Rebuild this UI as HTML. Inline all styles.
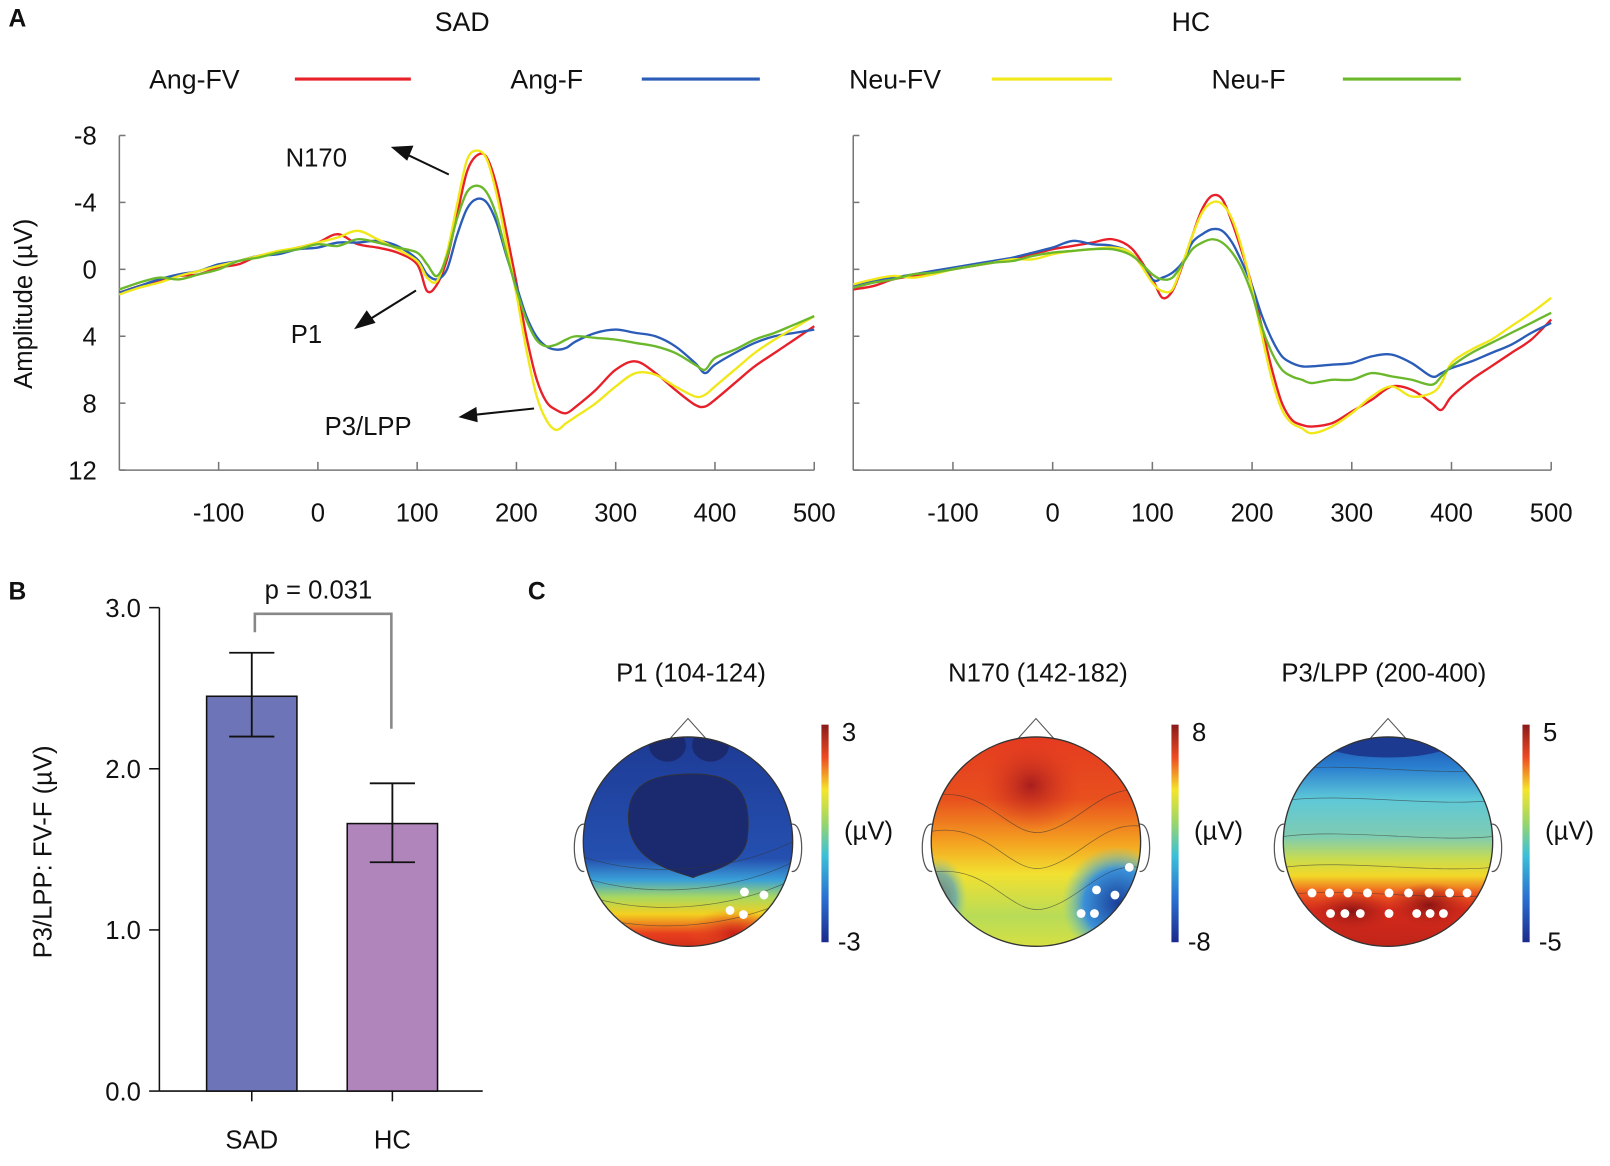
<!DOCTYPE html>
<html><head><meta charset="utf-8"><style>
html,body{margin:0;padding:0;background:#fff}
svg{display:block;font-family:"Liberation Sans",Arial,sans-serif}
</style></head><body>
<svg id="fig" width="1610" height="1166" viewBox="0 0 1568 1136" xmlns="http://www.w3.org/2000/svg">
<defs>
<clipPath id="h1"><circle cx="670" cy="820" r="102"/></clipPath>
<clipPath id="h2"><circle cx="1009" cy="820" r="102"/></clipPath>
<clipPath id="h3"><circle cx="1352" cy="820" r="102"/></clipPath>
<linearGradient id="cbar" x1="0" y1="1" x2="0" y2="0">
<stop offset="0" stop-color="#1b2a8c"/><stop offset="0.2" stop-color="#2a6fd0"/><stop offset="0.4" stop-color="#3cc0d8"/><stop offset="0.55" stop-color="#9ad66a"/><stop offset="0.7" stop-color="#f5e52a"/><stop offset="0.85" stop-color="#ee4a22"/><stop offset="1" stop-color="#8a1a1a"/>
</linearGradient>
<linearGradient id="g1" x1="0" y1="0" x2="0" y2="1">
<stop offset="0" stop-color="#1d3a94"/><stop offset="0.58" stop-color="#2550b0"/><stop offset="0.68" stop-color="#3aa0d8"/><stop offset="0.76" stop-color="#a8d860"/><stop offset="0.84" stop-color="#f3d020"/><stop offset="0.93" stop-color="#e8401e"/><stop offset="1" stop-color="#d02a1a"/>
</linearGradient>
<linearGradient id="g2" x1="0" y1="0" x2="0" y2="1">
<stop offset="0" stop-color="#e43a20"/><stop offset="0.3" stop-color="#e8501e"/><stop offset="0.5" stop-color="#f4a020"/><stop offset="0.65" stop-color="#f2e030"/><stop offset="0.85" stop-color="#b8dc58"/><stop offset="1" stop-color="#d8e040"/>
</linearGradient>
<linearGradient id="g3" x1="0" y1="0" x2="0" y2="1">
<stop offset="0" stop-color="#1d4aa8"/><stop offset="0.15" stop-color="#2a7fd0"/><stop offset="0.3" stop-color="#5ec8d8"/><stop offset="0.48" stop-color="#80ccb0"/><stop offset="0.58" stop-color="#c8dc50"/><stop offset="0.66" stop-color="#f3d828"/><stop offset="0.74" stop-color="#ee5a20"/><stop offset="0.82" stop-color="#d42a1c"/><stop offset="1" stop-color="#c02418"/>
</linearGradient>
<radialGradient id="r2"><stop offset="0" stop-color="#a81e1e"/><stop offset="1" stop-color="#e43a20" stop-opacity="0"/></radialGradient>
<radialGradient id="b2"><stop offset="0" stop-color="#1a3f9a"/><stop offset="0.6" stop-color="#3a90d8"/><stop offset="1" stop-color="#70c8c0" stop-opacity="0"/></radialGradient>
<radialGradient id="r1"><stop offset="0" stop-color="#c81e18"/><stop offset="1" stop-color="#ee5a20" stop-opacity="0"/></radialGradient>
<radialGradient id="r3"><stop offset="0" stop-color="#8a1414"/><stop offset="1" stop-color="#c02418" stop-opacity="0"/></radialGradient>
</defs>

<g font-size="26" fill="#111">
<text x="8" y="26" font-weight="bold" font-size="24">A</text>
<text x="8" y="584" font-weight="bold" font-size="24">B</text>
<text x="514" y="584" font-weight="bold" font-size="24">C</text>
<text x="450" y="30" text-anchor="middle">SAD</text>
<text x="1160" y="30" text-anchor="middle">HC</text>
</g>

<g id="legend" font-size="26" fill="#111">
<g><text x="145" y="86">Ang-FV</text><line x1="287" y1="77" x2="400" y2="77" stroke="#e8202a" stroke-width="3"/></g>
<g><text x="497" y="86">Ang-F</text><line x1="625" y1="77" x2="740" y2="77" stroke="#2a5cb8" stroke-width="3"/></g>
<g><text x="827" y="86">Neu-FV</text><line x1="966" y1="77" x2="1083" y2="77" stroke="#f0e81a" stroke-width="3"/></g>
<g><text x="1180" y="86">Neu-F</text><line x1="1308" y1="77" x2="1423" y2="77" stroke="#6cb82c" stroke-width="3"/></g>
</g>

<g id="erp"></g>

<g font-size="25" fill="#111">
<text x="278" y="162">N170</text>
<text x="283" y="334">P1</text>
<text x="316" y="424">P3/LPP</text>
<g stroke="#111" stroke-width="2" fill="#111">
<line x1="437" y1="170" x2="395" y2="150"/><polygon points="383,144 401,143 396,155"/>
<line x1="405" y1="283" x2="360" y2="311"/><polygon points="347,319 357,304 364,314"/>
<line x1="520" y1="398" x2="463" y2="404"/><polygon points="449,406 463,398 464,410"/>
</g>
</g>

<g id="barchart"></g>

<g id="topos"></g>
</svg>
<script>
// ---------- ERP data ----------
const times = [-200,-180,-160,-140,-120,-100,-80,-60,-40,-20,0,20,40,60,80,100,110,120,130,140,150,160,170,180,190,200,210,220,230,240,250,260,280,300,320,340,360,380,390,400,420,440,460,480,500];
const sadAngFV = [1.4,1.0,0.7,0.4,0.3,-0.1,-0.3,-0.8,-1.0,-1.3,-1.6,-2.1,-1.5,-1.3,-1.0,-0.3,1.3,0.9,-0.6,-3.2,-5.8,-6.8,-6.7,-5.0,-2.2,0.8,4.0,6.5,7.9,8.4,8.6,8.2,7.2,6.0,5.5,6.2,7.2,8.1,8.2,7.8,6.8,5.8,5.0,4.2,3.4];
const sadAngF  = [1.4,1.0,0.6,0.3,0.1,-0.3,-0.5,-0.8,-0.9,-1.2,-1.3,-1.6,-1.6,-1.7,-1.4,-0.6,0.3,0.6,0.0,-2.0,-3.6,-4.2,-4.0,-2.8,-0.8,1.0,2.8,4.0,4.6,4.8,4.7,4.3,3.8,3.6,3.8,4.0,4.6,5.6,6.2,5.7,5.0,4.4,4.0,3.8,3.6];
const sadNeuFV = [1.5,1.1,0.8,0.4,0.1,-0.2,-0.5,-0.8,-1.1,-1.3,-1.6,-1.9,-2.3,-1.8,-1.2,-0.5,0.5,0.7,-1.0,-3.8,-6.5,-7.1,-6.6,-4.5,-1.5,1.5,4.8,7.5,9.0,9.6,9.2,8.8,8.0,7.0,6.2,6.3,7.0,7.6,7.5,7.0,6.0,5.0,4.2,3.5,2.8];
const sadNeuF  = [1.2,0.8,0.5,0.6,0.3,0.0,-0.5,-0.7,-1.0,-1.2,-1.5,-1.4,-1.8,-1.6,-1.3,-1.0,-0.3,0.4,-0.8,-3.0,-4.6,-5.0,-4.6,-3.2,-0.9,1.2,3.0,4.2,4.6,4.5,4.2,4.0,4.1,4.2,4.4,4.6,5.0,5.7,6.0,5.3,4.8,4.2,3.8,3.3,2.8];
const hcAngFV  = [1.2,1.0,0.6,0.4,0.2,0.0,-0.2,-0.4,-0.6,-0.9,-1.2,-1.4,-1.6,-1.8,-1.2,0.6,1.7,1.3,-0.2,-2.0,-3.6,-4.4,-4.2,-2.8,-1.0,1.0,3.5,6.0,8.0,9.0,9.3,9.4,9.2,8.5,7.8,7.0,7.2,8.0,8.4,7.6,6.6,5.8,5.0,4.2,3.0];
const hcAngF   = [1.0,0.7,0.5,0.3,0.1,-0.1,-0.3,-0.5,-0.7,-1.0,-1.3,-1.7,-1.5,-1.4,-0.9,0.6,0.5,0.2,-0.4,-1.6,-2.1,-2.4,-2.3,-1.6,-0.4,1.0,2.8,4.2,5.2,5.6,5.8,5.8,5.7,5.6,5.2,5.1,5.6,6.4,6.2,5.9,5.5,5.0,4.5,3.8,3.2];
const hcNeuFV  = [0.9,0.6,0.4,0.5,0.3,0.0,-0.2,-0.4,-0.6,-0.6,-0.9,-1.1,-1.2,-1.3,-0.9,0.8,1.3,1.2,-0.3,-2.0,-3.4,-4.0,-3.9,-3.0,-1.2,1.2,4.0,6.6,8.4,9.2,9.5,9.8,9.4,8.6,7.6,7.0,7.6,7.4,6.8,5.6,4.8,4.2,3.4,2.6,1.7];
const hcNeuF   = [1.1,0.8,0.6,0.3,0.2,0.0,-0.2,-0.4,-0.5,-0.8,-1.0,-1.1,-1.2,-1.2,-0.8,0.3,0.6,0.5,-0.3,-1.2,-1.6,-1.8,-1.6,-1.0,0.0,1.5,3.5,5.0,6.0,6.4,6.6,6.8,6.6,6.6,6.2,6.4,6.6,6.9,6.4,5.8,5.0,4.4,3.8,3.2,2.6];
const xTicks = [-100,0,100,200,300,400,500];
const yTicks = [-8,-4,0,4,8,12];
const seriesColors = ['#e8202a','#2a5cb8','#f0e81a','#6cb82c'];
const seriesNames = ['ang-fv','ang-f','neu-fv','neu-f'];

// ---------- Bar data ----------
const groups = ['SAD','HC'];
const means = [2.45,1.66];
const semLow = [2.20,1.42];
const semHigh = [2.72,1.91];
const barTicks = [0.0,1.0,2.0,3.0];
const barTickLabels = ['0.0','1.0','2.0','3.0'];

// ---------- Topomap data ----------
const topoTitles = ['P1 (104-124)','N170 (142-182)','P3/LPP (200-400)'];
const topoMax = ['3','8','5'];
const topoMin = ['-3','-8','-5'];

const NS='http://www.w3.org/2000/svg';
function mk(tag,attrs,parent){const e=document.createElementNS(NS,tag);for(const k in attrs)e.setAttribute(k,attrs[k]);parent.appendChild(e);return e;}

function smooth(pts){
  let d='M'+pts[0][0].toFixed(1)+','+pts[0][1].toFixed(1);
  for(let i=0;i<pts.length-1;i++){
    const p0=pts[Math.max(0,i-1)],p1=pts[i],p2=pts[i+1],p3=pts[Math.min(pts.length-1,i+2)];
    const c1=[p1[0]+(p2[0]-p0[0])/6,p1[1]+(p2[1]-p0[1])/6];
    const c2=[p2[0]-(p3[0]-p1[0])/6,p2[1]-(p3[1]-p1[1])/6];
    d+=' C'+c1[0].toFixed(1)+','+c1[1].toFixed(1)+' '+c2[0].toFixed(1)+','+c2[1].toFixed(1)+' '+p2[0].toFixed(1)+','+p2[1].toFixed(1);
  }
  return d;
}

const erp=document.getElementById('erp');
function erpPanel(x0,x1,showY,series,name){
  const g=mk('g',{},erp);
  
  
  const tmin=-200,tmax=500,vmin=-8,vmax=12,yTop=132,yBot=458;
  const X=t=>x0+(t-tmin)/(tmax-tmin)*(x1-x0);
  const Y=v=>yTop+(v-vmin)/(vmax-vmin)*(yBot-yTop);
  mk('line',{x1:x0,y1:yTop,x2:x0,y2:yBot,stroke:'#777','stroke-width':1.5},g);
  mk('line',{x1:x0,y1:yBot,x2:x1,y2:yBot,stroke:'#777','stroke-width':1.5},g);
  yTicks.forEach(v=>{
    mk('line',{x1:x0,y1:Y(v),x2:x0+6,y2:Y(v),stroke:'#777','stroke-width':1.5},g);
    if(showY){const t=mk('text',{x:x0-22,y:Y(v)+9,'text-anchor':'end','font-size':25,fill:'#111'},g);t.textContent=v;
      
      }
  });
  xTicks.forEach(v=>{
    mk('line',{x1:X(v),y1:yBot,x2:X(v),y2:yBot-8,stroke:'#777','stroke-width':1.5},g);
    const t=mk('text',{x:X(v),y:yBot+50,'text-anchor':'middle','font-size':25,fill:'#111'},g);t.textContent=v;
    
    
  });
  series.forEach((s,i)=>{
    const p=mk('path',{d:smooth(times.map((t,j)=>[X(t),Y(s[j])])),fill:'none',stroke:seriesColors[i],'stroke-width':2.3},g);
    
    
  });
}
erpPanel(116,793,true,[sadAngFV,sadAngF,sadNeuFV,sadNeuF],'sad-erp-plot');
erpPanel(831,1511,false,[hcAngFV,hcAngF,hcNeuFV,hcNeuF],'hc-erp-plot');
const yl=mk('text',{x:0,y:0,transform:'translate(31,296) rotate(-90)','text-anchor':'middle','font-size':25,fill:'#111'},erp);
yl.textContent='Amplitude (µV)';



// ---------- Bar chart ----------
const bc=document.getElementById('barchart');
(function(){
  const ax=155,yB=1063,yT=592,vmax=3;
  const Y=v=>yB-(v/vmax)*(yB-yT);
  const centers=[245,382],bw=88,cols=['#6e74b8','#b085bb'];
  mk('line',{x1:ax,y1:yT,x2:ax,y2:yB,stroke:'#111','stroke-width':1.5},bc);
  mk('line',{x1:ax,y1:yB,x2:470,y2:yB,stroke:'#111','stroke-width':1.5},bc);
  barTicks.forEach((v,i)=>{
    mk('line',{x1:ax-10,y1:Y(v),x2:ax,y2:Y(v),stroke:'#111','stroke-width':1.5},bc);
    const t=mk('text',{x:ax-18,y:Y(v)+9,'text-anchor':'end','font-size':25,fill:'#111'},bc);t.textContent=barTickLabels[i];
    
    
  });
  groups.forEach((gname,i)=>{
    const r=mk('rect',{x:centers[i]-bw/2,y:Y(means[i]),width:bw,height:yB-Y(means[i]),fill:cols[i],stroke:'#111','stroke-width':1.5},bc);
    
    
    const e=mk('path',{d:`M${centers[i]},${Y(semLow[i])}V${Y(semHigh[i])}M${centers[i]-22},${Y(semLow[i])}H${centers[i]+22}M${centers[i]-22},${Y(semHigh[i])}H${centers[i]+22}`,stroke:'#111','stroke-width':1.8,fill:'none'},bc);
    
    
    mk('line',{x1:centers[i],y1:yB,x2:centers[i],y2:yB+10,stroke:'#111','stroke-width':1.5},bc);
    const t=mk('text',{x:centers[i],y:yB+56,'text-anchor':'middle','font-size':25,fill:'#111'},bc);t.textContent=gname;
    
    
  });
  const br=mk('path',{d:`M248,${Y(semHigh[0])-20}V598H381V710`,stroke:'#888','stroke-width':2.5,fill:'none'},bc);
  
  
  const p=mk('text',{x:310,y:583,'text-anchor':'middle','font-size':25,fill:'#111'},bc);p.textContent='p = 0.031';
  
  
  const yt=mk('text',{x:0,y:0,transform:'translate(50,830) rotate(-90)','text-anchor':'middle','font-size':25,fill:'#111'},bc);yt.textContent='P3/LPP: FV-F (µV)';
  
  
})();

// ---------- Topomaps ----------
const tp=document.getElementById('topos');
const cxs=[670,1009,1352],cbx=[800,1141,1483],tcx=[673,1011,1348];
const R=102,CY=820;
const fills=['url(#g1)','url(#g2)','url(#g3)'];
const dotOffsets=[
 [[55,49],[74,52],[41,67],[54,71]],
 [[91,25],[59,47],[77,52],[44,70],[57,70]],
 [[-74,50],[-57,50],[-39,50],[-20,50],[1,50],[20,50],[40,50],[60,50],[77,50],[-56,70],[-42,70],[-27,70],[1,70],[28,70],[41,70],[54,70]]
];
topoTitles.forEach((title,i)=>{
  const cx=cxs[i],cy=CY;
  const g=mk('g',{},tp);
  
  
  const t=mk('text',{x:tcx[i],y:664,'text-anchor':'middle','font-size':25,fill:'#111'},g);t.textContent=title;
  
  
  mk('path',{d:`M${cx-17},${cy-R+1}L${cx},${cy-R-18}L${cx+17},${cy-R+1}`,stroke:'#555','stroke-width':1,fill:'none'},g);
  mk('path',{d:`M${cx-R+1},${cy-17}C${cx-R-12},${cy-19} ${cx-R-12},${cy+31} ${cx-R+1},${cy+29}`,stroke:'#555','stroke-width':1.2,fill:'none'},g);
  mk('path',{d:`M${cx+R-1},${cy-17}C${cx+R+12},${cy-19} ${cx+R+12},${cy+31} ${cx+R-1},${cy+29}`,stroke:'#555','stroke-width':1.2,fill:'none'},g);
  const c=mk('g',{'clip-path':`url(#h${i+1})`},g);
  mk('rect',{x:cx-R-2,y:cy-R-2,width:2*R+4,height:2*R+4,fill:fills[i]},c);
  if(i===0){
    mk('path',{d:`M${cx-58},${cy-20}C${cx-60},${cy-60} ${cx-30},${cy-66} ${cx+5},${cy-66}C${cx+50},${cy-66} ${cx+62},${cy-45} ${cx+58},${cy-5}C${cx+55},${cy+25} ${cx+20},${cy+28} ${cx+5},${cy+35}C${cx-15},${cy+28} ${cx-56},${cy+20} ${cx-58},${cy-20}Z`,fill:'#1b2a6e',stroke:'#333','stroke-width':0.8},c);
    mk('ellipse',{cx:cx-20,cy:cy-R+8,rx:18,ry:16,fill:'#1b2a6e'},c);
    mk('ellipse',{cx:cx+22,cy:cy-R+8,rx:18,ry:16,fill:'#1b2a6e'},c);
    mk('ellipse',{cx:cx+45,cy:cy+90,rx:45,ry:25,fill:'url(#r1)'},c);
    [25,45,62,80].forEach(dy=>mk('path',{d:`M${cx-R},${cy+dy-10}C${cx-40},${cy+dy+10} ${cx+40},${cy+dy+5} ${cx+R},${cy+dy-25}`,stroke:'#333','stroke-width':0.7,fill:'none',opacity:0.6},c));
  } else if(i===1){
    mk('ellipse',{cx:cx-5,cy:cy-55,rx:50,ry:45,fill:'url(#r2)'},c);
    mk('ellipse',{cx:cx+80,cy:cy+60,rx:55,ry:55,fill:'url(#b2)'},c);
    mk('ellipse',{cx:cx-95,cy:cy+55,rx:28,ry:40,fill:'url(#b2)',opacity:0.6},c);
    [-45,-10,30].forEach(dy=>mk('path',{d:`M${cx-R},${cy+dy}C${cx-45},${cy+dy-10} ${cx-25},${cy+dy+45} ${cx+10},${cy+dy+35}S${cx+65},${cy+dy-10} ${cx+R},${cy+dy-5}`,stroke:'#333','stroke-width':0.7,fill:'none',opacity:0.6},c));
  } else {
    mk('ellipse',{cx:cx,cy:cy-R+4,rx:65,ry:16,fill:'#1b3a90'},c);
    mk('ellipse',{cx:cx-35,cy:cy+68,rx:40,ry:20,fill:'url(#r3)'},c);
    mk('ellipse',{cx:cx+40,cy:cy+62,rx:40,ry:22,fill:'url(#r3)'},c);
    [-70,-40,-5,25,52].forEach(dy=>mk('path',{d:`M${cx-R},${cy+dy}C${cx-40},${cy+dy-8} ${cx+40},${cy+dy+6} ${cx+R},${cy+dy}`,stroke:'#333','stroke-width':0.7,fill:'none',opacity:0.6},c));
  }
  mk('circle',{cx:cx,cy:cy,r:R,fill:'none',stroke:'#333','stroke-width':1.3},g);
  const dg=mk('g',{},g);
  dotOffsets[i].forEach(([dx,dy])=>{
    const d=mk('circle',{cx:cx+dx,cy:cy+dy,r:4.3,fill:'#ffffff'},dg);
    
    
  });
  const cb=mk('rect',{x:cbx[i],y:706,width:7,height:212,fill:'url(#cbar)'},g);
  
  
  const a=mk('text',{x:cbx[i]+20,y:722,'font-size':25,fill:'#111'},g);a.textContent=topoMax[i];
  
  
  const b=mk('text',{x:cbx[i]+16,y:926,'font-size':25,fill:'#111'},g);b.textContent=topoMin[i];
  
  
  const u=mk('text',{x:cbx[i]+22,y:818,'font-size':25,fill:'#111'},g);u.textContent='(µV)';
  
  
});
</script>
</body></html>
